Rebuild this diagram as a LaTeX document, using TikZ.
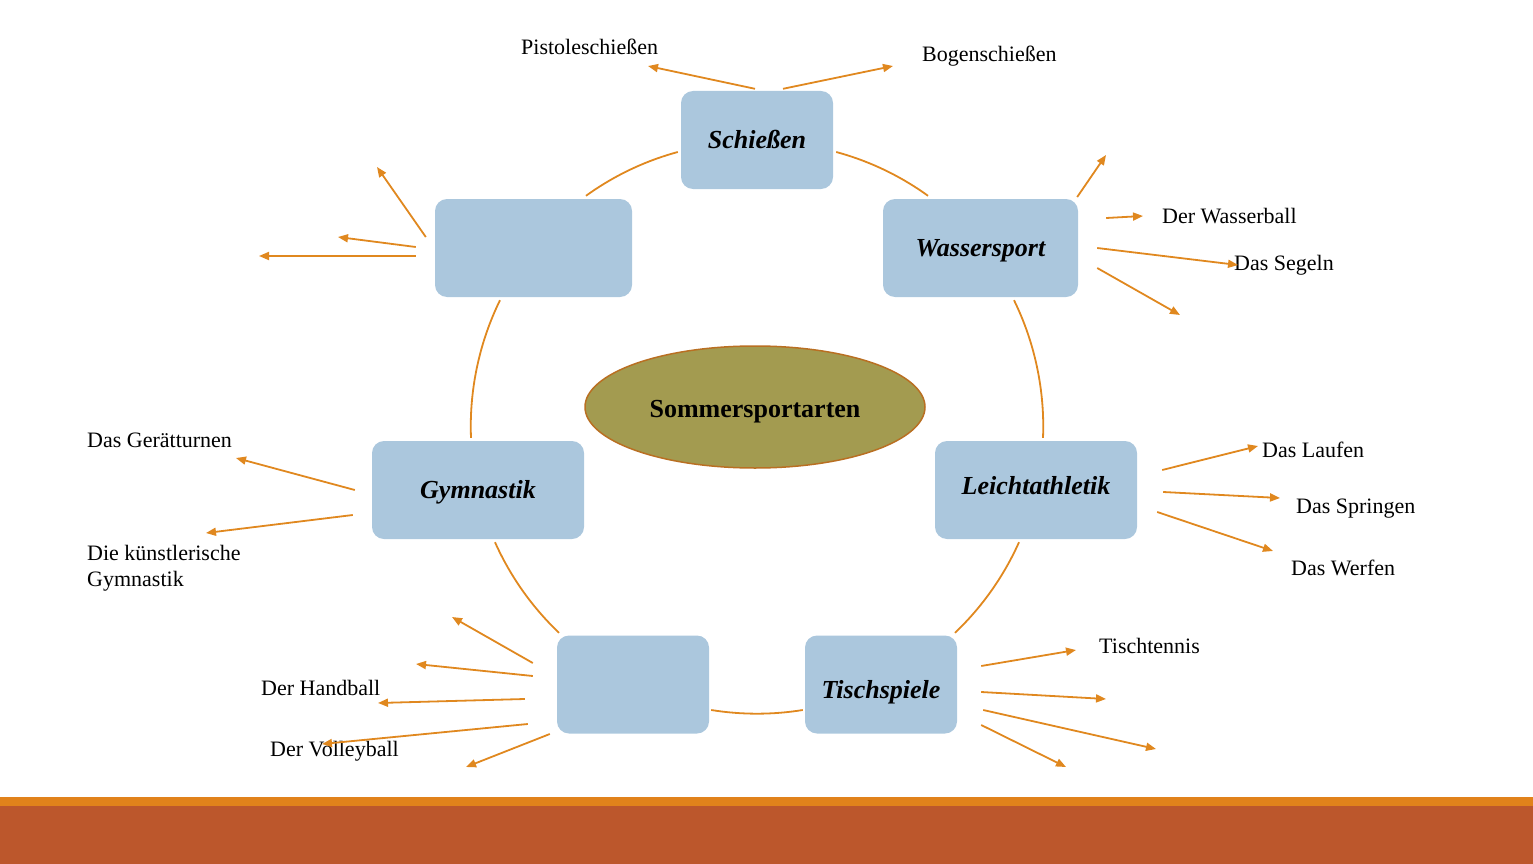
\documentclass[tikz,border=0pt]{standalone}
\usepackage{fontspec}
\setmainfont{Liberation Serif}
\usepackage{tikz}
\usetikzlibrary{arrows.meta, shapes.geometric}
\definecolor{boxblue}{HTML}{ABC7DD}
\definecolor{arrorange}{HTML}{E0881F}
\definecolor{olivefill}{HTML}{A39B50}
\definecolor{olivedraw}{HTML}{B96F22}
\definecolor{bandorange}{HTML}{E1821B}
\definecolor{bandrust}{HTML}{BC572C}

\begin{document}
\begin{tikzpicture}[x=1pt, y=-1pt,
	sportbox/.style={fill=boxblue, rounded corners=12pt, minimum height=98pt, inner sep=0pt, text height=17.5pt, text depth=0.3pt, font=\fontsize{26}{31}\selectfont\bfseries\itshape},
	arr/.style={draw=arrorange, line width=1.8pt, -{Triangle[length=10pt,width=8pt]}},
	ring/.style={draw=arrorange, line width=1.8pt, looseness=0.86},
	lbl/.style={anchor=west, inner sep=0pt, text depth=0pt, font=\fontsize{22}{26}\selectfont}]
			\useasboundingbox (0,0) rectangle (1533,864);
			\fill[bandorange] (0,797) rectangle (1533,806);
			\fill[bandrust] (0,806) rectangle (1533,864);
			% centre
			\node[ellipse, fill=olivefill, draw=olivedraw, line width=1.5pt, minimum width=340pt, minimum height=122pt, inner sep=0pt, text height=21.5pt, text depth=0pt, font=\fontsize{26}{31}\selectfont\bfseries] (mitte) at (755,407) {Sommersportarten};
			% sport boxes on the ring
			\node[sportbox, minimum width=152pt] (sch) at (757,140) {Schießen};
			\node[sportbox, minimum width=195pt] (ws) at (980.5,248) {Wassersport};
			\node[sportbox, minimum width=202pt, text height=9.5pt] (lei) at (1036,490) {Leichtathletik};
			\node[sportbox, minimum width=152pt, text height=28.5pt] (tis) at (881,684.5) {Tischspiele};
			\node[sportbox, minimum width=152pt] (bl) at (633,684.5) {};
			\node[sportbox, minimum width=212pt] (gym) at (478,490) {Gymnastik};
			\node[sportbox, minimum width=197pt] (tl) at (533.5,248) {};
			\draw[ring] ([shift={(52.5,-3)}]tl.north) to[bend left=10.3] ([shift={(-3,12)}]sch.west);
			\draw[ring] ([shift={(3,12)}]sch.east) to[bend left=10.3] ([shift={(-52.5,-3)}]ws.north);
			\draw[ring] ([shift={(33.5,3)}]ws.south) to[bend left=14.25] ([shift={(7,-3)}]lei.north);
			\draw[ring] ([shift={(-17,3)}]lei.south) to[bend left=11.15] ([shift={(74,-2.5)}]tis.north);
			\draw[ring] ([shift={(-2,25.5)}]tis.west) to[bend left=9.2] ([shift={(2,25.5)}]bl.east);
			\draw[ring] ([shift={(-74,-2.5)}]bl.north) to[bend left=11.15] ([shift={(17,3)}]gym.south);
			\draw[ring] ([shift={(-7,-3)}]gym.north) to[bend left=14.25] ([shift={(-33.5,3)}]tl.south);
			% labels
			\node[lbl] (pist) at (521,47) {Pistoleschießen};
			\node[lbl] (bogen) at (922,54) {Bogenschießen};
			\node[lbl] (wball) at (1162,216) {Der Wasserball};
			\node[lbl] (segeln) at (1234,263) {Das Segeln};
			\node[lbl] (geraet) at (87,440) {Das Gerätturnen};
			\node[lbl, align=left] (kuenst) at (87,566) {Die künstlerische\\Gymnastik};
			\node[lbl] (laufen) at (1262,450) {Das Laufen};
			\node[lbl] (springen) at (1296,506) {Das Springen};
			\node[lbl] (werfen) at (1291,568) {Das Werfen};
			\node[lbl] (hball) at (261,688) {Der Handball};
			\node[lbl] (vball) at (270,749) {Der Volleyball};
			\node[lbl] (ttennis) at (1099,646) {Tischtennis};
			% arrow tips
			\path (648,66) coordinate (s1) (893,66) coordinate (s2);
			\path (377,167) coordinate (t1) (338,237) coordinate (t2) (259,256) coordinate (t3);
			\path (1106,155) coordinate (w1) (1143,216) coordinate (w2) (1238,265) coordinate (w3) (1180,315) coordinate (w4);
			\path (236,458) coordinate (g1) (206,533) coordinate (g2);
			\path (1258,446) coordinate (l1) (1280,498) coordinate (l2) (1273,551) coordinate (l3);
			\path (452,617) coordinate (b1) (416,664) coordinate (b2) (378,703) coordinate (b3) (322,744) coordinate (b4) (466,767) coordinate (b5);
			\path (1076,650) coordinate (p1) (1106,699) coordinate (p2) (1156,749) coordinate (p3) (1066,767) coordinate (p4);
			% arrows
			\draw[arr] ([shift={(-2,-2)}]sch.north) -- (s1);
			\draw[arr] ([shift={(26,-2)}]sch.north) -- (s2);
			\draw[arr] ([shift={(-9,-11)}]tl.west) -- (t1);
			\draw[arr] ([shift={(-19,-1)}]tl.west) -- (t2);
			\draw[arr] ([shift={(-19,8)}]tl.west) -- (t3);
			\draw[arr] ([shift={(-1,-51)}]ws.east) -- (w1);
			\draw[arr] ([shift={(28,-30)}]ws.east) -- (w2);
			\draw[arr] ([shift={(19,0)}]ws.east) -- (w3);
			\draw[arr] ([shift={(19,20)}]ws.east) -- (w4);
			\draw[arr] ([shift={(-17,0)}]gym.west) -- (g1);
			\draw[arr] ([shift={(-19,25)}]gym.west) -- (g2);
			\draw[arr] ([shift={(25,-20)}]lei.east) -- (l1);
			\draw[arr] ([shift={(26,2)}]lei.east) -- (l2);
			\draw[arr] ([shift={(20,22)}]lei.east) -- (l3);
			\draw[arr] ([shift={(-24,-21.5)}]bl.west) -- (b1);
			\draw[arr] ([shift={(-24,-8.5)}]bl.west) -- (b2);
			\draw[arr] ([shift={(-32,14.5)}]bl.west) -- (b3);
			\draw[arr] ([shift={(-29,39.5)}]bl.west) -- (b4);
			\draw[arr] ([shift={(-7,49.5)}]bl.west) -- (b5);
			\draw[arr] ([shift={(24,-18.5)}]tis.east) -- (p1);
			\draw[arr] ([shift={(24,7.5)}]tis.east) -- (p2);
			\draw[arr] ([shift={(26,25.5)}]tis.east) -- (p3);
			\draw[arr] ([shift={(24,40.5)}]tis.east) -- (p4);
			\end{tikzpicture}
\end{document}
